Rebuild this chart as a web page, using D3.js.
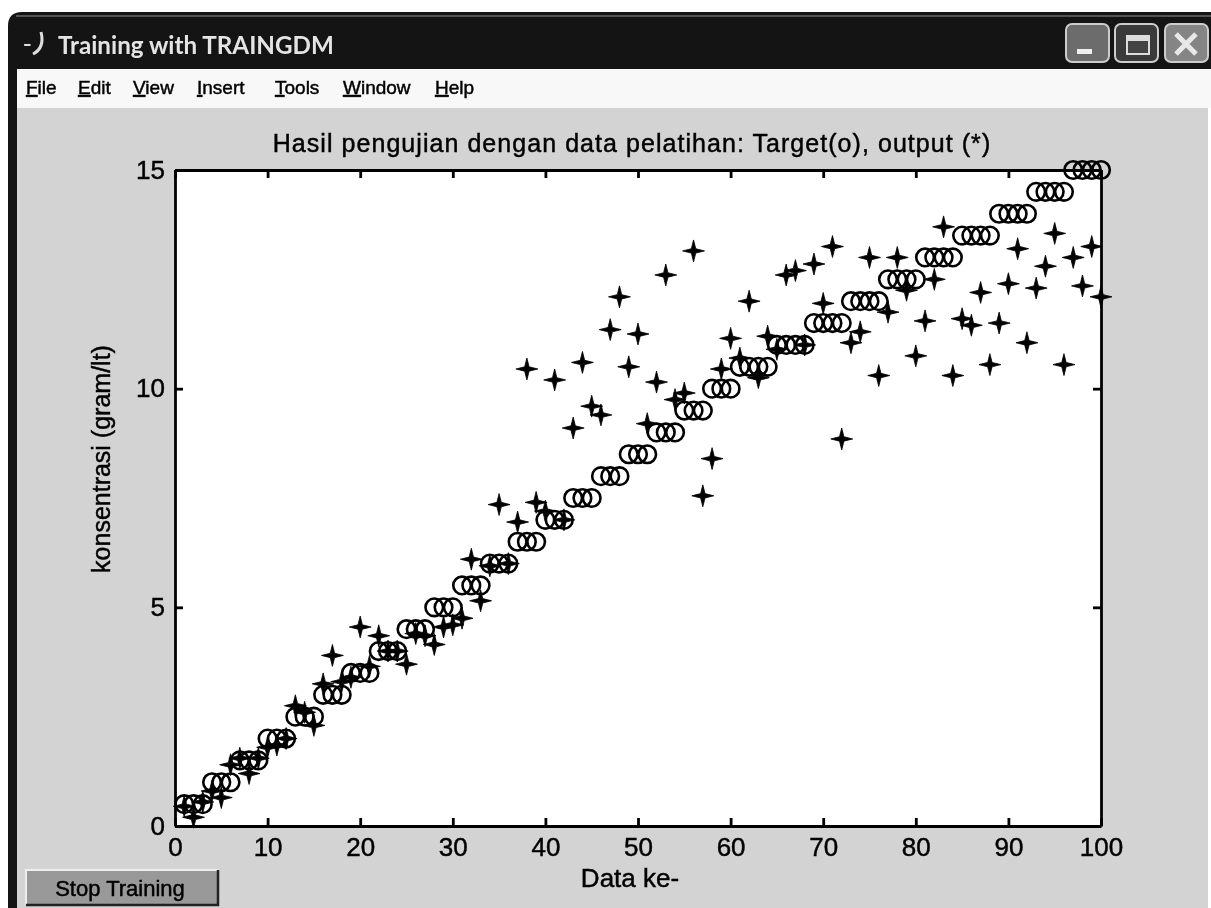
<!DOCTYPE html>
<html>
<head>
<meta charset="utf-8">
<script src="https://cdn.jsdelivr.net/npm/d3@7"></script>
<style>
html, body { margin: 0; padding: 0; background: #fff; overflow: hidden; }
svg { display: block; filter: blur(0.65px); }
text { font-family: "Liberation Sans", sans-serif; fill: #000; stroke: #000; stroke-width: 0.45px; }
</style>
</head>
<body>
<svg id="workspace" width="1211" height="908"></svg>
<script>
// target steps, one value per data index 1..100
var targetValues = [
    0.5, 0.5, 0.5, 1, 1, 1, 1.5, 1.5, 1.5, 2,
    2, 2, 2.5, 2.5, 2.5, 3, 3, 3, 3.5, 3.5,
    3.5, 4, 4, 4, 4.5, 4.5, 4.5, 5, 5, 5,
    5.5, 5.5, 5.5, 6, 6, 6, 6.5, 6.5, 6.5, 7,
    7, 7, 7.5, 7.5, 7.5, 8, 8, 8, 8.5, 8.5,
    8.5, 9, 9, 9, 9.5, 9.5, 9.5, 10, 10, 10,
    10.5, 10.5, 10.5, 10.5, 11, 11, 11, 11, 11.5, 11.5,
    11.5, 11.5, 12, 12, 12, 12, 12.5, 12.5, 12.5, 12.5,
    13, 13, 13, 13, 13.5, 13.5, 13.5, 13.5, 14, 14,
    14, 14, 14.5, 14.5, 14.5, 14.5, 15, 15, 15, 15
];
var outputValues = [
    0.45, 0.2, 0.55, 0.8, 0.65, 1.4, 1.55, 1.2, 1.55, 1.8,
    1.85, 2, 2.75, 2.6, 2.3, 3.25, 3.9, 3.3, 3.4, 4.55,
    3.65, 4.35, 4, 4, 3.7, 4.4, 4.35, 4.15, 4.55, 4.6,
    4.75, 6.1, 5.15, 5.95, 7.35, 6, 6.95, 10.45, 7.4, 7.2,
    10.2, 7, 9.1, 10.6, 9.6, 9.4, 11.35, 12.1, 10.5, 11.25,
    9.2, 10.15, 12.6, 9.75, 9.9, 13.15, 7.55, 8.4, 10.45, 11.15,
    10.7, 12, 10.25, 11.2, 10.9, 12.6, 12.7, 11, 12.85, 11.95,
    13.25, 8.85, 11.05, 11.3, 13, 10.3, 11.75, 13, 12.25, 10.75,
    11.55, 12.5, 13.7, 10.3, 11.6, 11.45, 12.2, 10.55, 11.5, 12.4,
    13.2, 11.05, 12.3, 12.8, 13.55, 10.55, 13, 12.35, 13.25, 12.1
];
var xTicks = [0, 10, 20, 30, 40, 50, 60, 70, 80, 90, 100];
var yTicks = [0, 5, 10, 15];
var menuLabels = ["File", "Edit", "View", "Insert", "Tools", "Window", "Help"];
var menuStarts = [26, 78, 133, 197, 275, 343, 435];

var svg = d3.select("#workspace");

var x = d3.scaleLinear().domain([0, 100]).range([175, 1101]);
var y = d3.scaleLinear().domain([0, 15]).range([826, 170]);

// window chrome
svg.append("rect").attr("x", 0).attr("y", 0).attr("width", 1211).attr("height", 908).attr("fill", "#fff");
svg.append("rect").attr("x", 17).attr("y", 108).attr("width", 1191).attr("height", 800).attr("fill", "#d3d3d3");
svg.append("rect").attr("x", 17).attr("y", 70).attr("width", 1194).attr("height", 38).attr("fill", "#f8f8f8");
svg.append("path")
    .attr("d", "M8,908V26Q8,12 22,12H1211V69H17V908Z")
    .attr("fill", "#141414");
svg.append("rect").attr("x", 16).attr("y", 15).attr("width", 1195).attr("height", 2).attr("fill", "#555");

svg.append("text").attr("x", 23).attr("y", 52).attr("font-size", 26).style("fill", "#ddd").style("stroke", "none").text("-");
svg.append("path").attr("d", "M41,32Q45,48 33,54").attr("fill", "none").attr("stroke", "#ddd").attr("stroke-width", 3);
svg.append("text").attr("x", 58).attr("y", 54)
    .style("font-family", "Lato").style("font-weight", 700).style("fill", "#e4e4e4").style("stroke", "none")
    .attr("font-size", 24.2).text("Training with TRAINGDM");

// title bar buttons
var buttons = [1066, 1115, 1165];
var buttonFills = ["#6c6c6c", "#3a3a3a", "#858585"];
buttons.forEach(function (bx, i) {
    svg.append("rect").attr("x", bx).attr("y", 24).attr("width", 43).attr("height", 38).attr("rx", 6)
        .attr("fill", buttonFills[i]).attr("stroke", "#ccc").attr("stroke-width", 2);
});
svg.append("rect").attr("x", 1077).attr("y", 49).attr("width", 15).attr("height", 5).attr("fill", "#f0f0f0");
svg.append("rect").attr("x", 1127).attr("y", 36).attr("width", 22).attr("height", 18).attr("fill", "#444").attr("stroke", "#ddd").attr("stroke-width", 2);
svg.append("rect").attr("x", 1127).attr("y", 36).attr("width", 22).attr("height", 5).attr("fill", "#ddd");
svg.append("path").attr("d", "M1176,34L1196,54M1196,34L1176,54").attr("stroke", "#e8e8e8").attr("stroke-width", 5);

// menu
menuLabels.forEach(function (label, i) {
    var t = svg.append("text").attr("x", menuStarts[i]).attr("y", 94).attr("font-size", 19);
    t.append("tspan").style("text-decoration", "underline").text(label.charAt(0));
    t.append("tspan").text(label.slice(1));
});

// plot area
svg.append("rect").attr("x", x(0)).attr("y", y(15)).attr("width", x(100) - x(0)).attr("height", y(0) - y(15)).attr("fill", "#fff");

var axisBottom = svg.append("g").attr("transform", "translate(0," + y(0) + ")")
    .call(d3.axisBottom(x).tickValues(xTicks).tickSizeInner(-8).tickSizeOuter(0).tickPadding(12));
var axisLeft = svg.append("g").attr("transform", "translate(" + x(0) + ",0)")
    .call(d3.axisLeft(y).tickValues(yTicks).tickSizeInner(-8).tickSizeOuter(0).tickPadding(10));
var axisTop = svg.append("g").attr("transform", "translate(0," + y(15) + ")")
    .call(d3.axisTop(x).tickValues(xTicks).tickSizeInner(-8).tickSizeOuter(0).tickFormat(""));
var axisRight = svg.append("g").attr("transform", "translate(" + x(100) + ",0)")
    .call(d3.axisRight(y).tickValues(yTicks).tickSizeInner(-8).tickSizeOuter(0).tickFormat(""));

[axisBottom, axisLeft, axisTop, axisRight].forEach(function (axis) {
    axis.selectAll("path, line").attr("stroke", "#000").attr("stroke-width", 2.8);
    axis.selectAll("text").attr("font-size", 26).style("font-family", "Liberation Sans").style("fill", "#000");
});

// output marks, the scan melts the asterisk into a four point star
var starType = {
    draw: function (context, size) {
        var r = Math.sqrt(size), w = r * 0.2;
        context.moveTo(0, -r);
        context.lineTo(w, -w);
        context.lineTo(r, 0);
        context.lineTo(w, w);
        context.lineTo(0, r);
        context.lineTo(-w, w);
        context.lineTo(-r, 0);
        context.lineTo(-w, -w);
        context.closePath();
    }
};

svg.append("g").selectAll("circle")
    .data(targetValues).enter()
    .append("circle")
    .attr("cx", function (d, i) { return x(i + 1); })
    .attr("cy", function (d) { return y(d); })
    .attr("r", 8.8)
    .attr("fill", "none")
    .attr("stroke", "#000")
    .attr("stroke-width", 2.6);

svg.append("g").selectAll("path")
    .data(outputValues).enter()
    .append("path")
    .attr("d", d3.symbol().type(starType).size(120))
    .attr("transform", function (d, i) { return "translate(" + x(i + 1) + "," + y(d) + ")"; })
    .attr("fill", "#000")
    .attr("stroke", "#000")
    .attr("stroke-width", 0.8);

// labels
svg.append("text").attr("x", 632).attr("y", 152).attr("text-anchor", "middle").attr("font-size", 25)
    .style("letter-spacing", "1.05px")
    .text("Hasil pengujian dengan data pelatihan: Target(o), output (*)");
svg.append("text").attr("transform", "translate(110,459) rotate(-90)").attr("text-anchor", "middle").attr("font-size", 25)
    .text("konsentrasi (gram/lt)");
svg.append("text").attr("x", 630).attr("y", 887).attr("text-anchor", "middle").attr("font-size", 26)
    .text("Data ke-");

// stop button
svg.append("rect").attr("x", 26).attr("y", 870).attr("width", 192).attr("height", 35)
    .attr("fill", "#999");
svg.append("path").attr("d", "M26,905V870H218").attr("fill", "none").attr("stroke", "#eee").attr("stroke-width", 2);
svg.append("path").attr("d", "M218,870V905H26").attr("fill", "none").attr("stroke", "#222").attr("stroke-width", 2.5);
svg.append("text").attr("x", 120).attr("y", 896).attr("text-anchor", "middle").attr("font-size", 22)
    .text("Stop Training");
</script>
</body>
</html>
